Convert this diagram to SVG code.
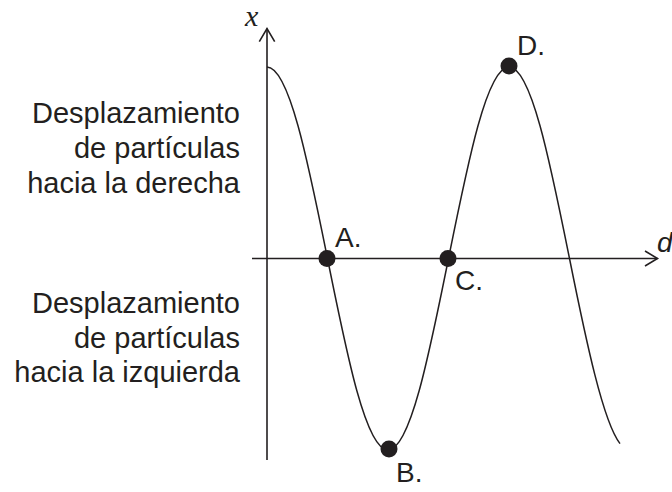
<svg xmlns="http://www.w3.org/2000/svg" width="672" height="492" viewBox="0 0 672 492">
<style>
.ax{fill:none;stroke:#231f20;stroke-width:1.6}
.crv{fill:none;stroke:#231f20;stroke-width:1.5}
.dot{fill:#231f20}
.lbl{font-family:"Liberation Sans",Arial,sans-serif;font-size:28px;fill:#231f20}
.side{font-family:"Liberation Sans",Arial,sans-serif;font-size:29px;fill:#231f20;text-anchor:end}
</style>
<rect width="672" height="492" fill="#ffffff"/>
<g id="axes">
<line class="ax" x1="267" y1="28.5" x2="267" y2="460"/>
<polyline class="ax" points="259.3,41.7 267,28.5 274.7,41.7"/>
<line class="ax" x1="252" y1="258.5" x2="657.5" y2="258.5"/>
<polyline class="ax" points="645,251 657.5,258.5 645,266"/>
<text x="245" y="26" font-family="'Liberation Serif','Times New Roman',serif" font-style="italic" font-size="30" fill="#231f20">x</text>
<text x="657" y="252" font-family="'Liberation Sans',Arial,sans-serif" font-style="italic" font-size="28" fill="#231f20">d</text>
</g>
<g id="curve">
<path class="crv" d="M267,67 C288.9,67 307.8,160.4 327.5,258.5 C347.2,356.6 366.1,450 388,450 C409.9,450 428.8,356.6 448.5,258.5 C468.2,160.4 487.1,67 509,67 C530.9,67 549.8,160.4 569.5,258.5 C586.3,342.2 603.2,422.1 620,443.6"/>
</g>
<g id="pointA"><circle class="dot" cx="327" cy="258.5" r="8.5"/><text class="lbl" x="335" y="247">A.</text></g>
<g id="pointB"><circle class="dot" cx="389" cy="449" r="8.5"/><text class="lbl" x="396" y="482">B.</text></g>
<g id="pointC"><circle class="dot" cx="448" cy="258.5" r="8.5"/><text class="lbl" x="455" y="290">C.</text></g>
<g id="pointD"><circle class="dot" cx="509" cy="66" r="8.5"/><text class="lbl" x="517" y="55">D.</text></g>
<g id="label-right">
<text class="side" x="240" y="123">Desplazamiento</text>
<text class="side" x="240" y="158">de partículas</text>
<text class="side" x="240" y="193">hacia la derecha</text>
</g>
<g id="label-left">
<text class="side" x="240" y="313">Desplazamiento</text>
<text class="side" x="240" y="348">de partículas</text>
<text class="side" x="240" y="382">hacia la izquierda</text>
</g>
</svg>
